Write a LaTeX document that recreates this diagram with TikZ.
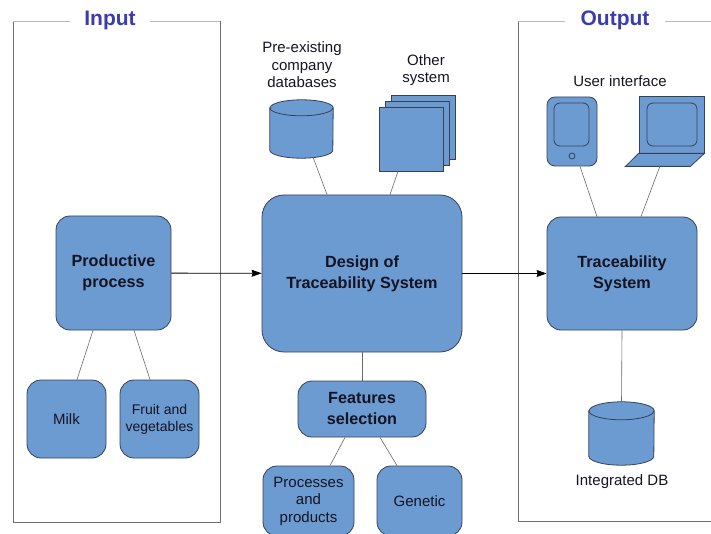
\documentclass[tikz,border=0pt]{standalone}
\usepackage{fontspec}
\setmainfont{Liberation Sans}
\usetikzlibrary{shapes}
\usetikzlibrary{arrows.meta}
\usetikzlibrary{positioning}

\definecolor{boxblue}{RGB}{108,155,210}
\definecolor{boxline}{RGB}{55,65,85}
\definecolor{boxtext}{RGB}{20,20,35}
\definecolor{titleblue}{RGB}{60,60,175}
\definecolor{wire}{RGB}{105,105,105}
\definecolor{frameside}{RGB}{110,110,110}
\definecolor{frametop}{RGB}{185,185,185}

\begin{document}
\begin{tikzpicture}[x=1pt,y=-1pt,>={Stealth[length=10pt,width=7pt,inset=1pt]},
	main node/.style={rectangle,rounded corners=14pt,fill=boxblue,draw=boxline,line width=0.8pt,align=center,inner sep=2pt,text=boxtext},
	bold text/.style={font=\fontsize{16.2}{21}\selectfont\bfseries},
	plain text/.style={font=\fontsize{15}{17.5}\selectfont,align=center,text=boxtext},
	db node/.style={rectangle,inner sep=0pt},
	sheet node/.style={rectangle,fill=boxblue,draw=boxline,line width=0.8pt,minimum size=64pt},
	outline/.style={draw=boxline,line width=0.8pt},
	link/.style={draw=wire,line width=0.6pt},
	title/.style={text=titleblue,font=\fontsize{21}{25}\selectfont\bfseries}]

	\useasboundingbox (0,0) rectangle (711,534);

	% frames
	\node[title] at (110,20) (intitle) {Input};
	\node[title] at (615,20) (outtitle) {Output};
	\draw[frameside,line width=0.8pt] (13,21) -- (13,522) -- (220,522) -- (220,21);
	\draw[frametop,line width=0.8pt] (13,21) -- (70,21) (150,21) -- (220,21);
	\draw[frameside,line width=0.8pt] (518,21) -- (518,521) -- (712,521);
	\draw[frametop,line width=0.8pt] (518,21) -- (565,21) (665,21) -- (712,21);

	% input side
	\node[main node,bold text,minimum width=115pt,minimum height=114pt] at (113.5,273) (prod) {Productive\\process};
	\node[main node,plain text,minimum width=79pt,minimum height=78pt] at (66.5,419) (milk) {Milk};
	\node[main node,plain text,font=\fontsize{14}{17}\selectfont,minimum width=79pt,minimum height=78pt] at (159.5,419) (fruit) {Fruit and\\vegetables};

	% design
	\node[main node,bold text,rounded corners=22pt,minimum width=200pt,minimum height=157pt] at (362,273.5) (design) {Design of\\Traceability System};
	\node[main node,bold text,minimum width=128pt,minimum height=56pt] at (362,409) (feat) {Features\\selection};
	\node[main node,plain text,minimum width=91pt,minimum height=70pt] at (308.5,501) (proc) {Processes\\and\\products};
	\node[main node,plain text,minimum width=85pt,minimum height=70pt] at (419.5,501) (gen) {Genetic};

	\node[db node,minimum width=63pt,minimum height=58pt] at (301.5,129) (predb) {};
	\draw[outline,fill=boxblue] ([yshift=-8pt]predb.north west) -- ([yshift=8pt]predb.south west)
		arc[start angle=180,end angle=360,x radius=31.5pt,y radius=8pt] -- ([yshift=-8pt]predb.north east)
		arc[start angle=0,end angle=180,x radius=31.5pt,y radius=8pt] -- cycle;
	\draw[outline] ([yshift=-8pt]predb.north west) arc[start angle=180,end angle=360,x radius=31.5pt,y radius=8pt];
	\node[plain text] at (302,65) (predbtext) {Pre-existing\\company\\databases};

	\node[sheet node] at (423,127) (sheet3) {};
	\node[sheet node] at (417,133) (sheet2) {};
	\node[sheet node] at (411,139) (sheet1) {};
	\node[plain text] at (426,70) (othertext) {Other\\system};

	% output side
	\node[main node,bold text,minimum width=150pt,minimum height=113pt] at (622,273.5) (trace) {Traceability\\System};
	\node[plain text] at (620,81) (uitext) {User interface};

	\node[main node,rounded corners=8pt,minimum width=50pt,minimum height=69pt] at (572,131.5) (tablet) {};
	\node[outline,rectangle,rounded corners=6pt,minimum width=35pt,minimum height=43pt] at (571.5,124.5) (tabscreen) {};
	\node[outline,circle,minimum size=6pt,inner sep=0pt] at (572,156) (tabbutton) {};

	\node[sheet node,minimum width=65pt,minimum height=57pt] at (671.5,124.5) (laptop) {};
	\node[outline,rectangle,rounded corners=6pt,minimum width=50pt,minimum height=43pt] at (672,124.5) (lapscreen) {};
	\draw[outline,fill=boxblue] (laptop.south west) -- (laptop.south east) -- ++(-14,13) -- ++(-65,0) -- cycle;
	\coordinate (keyboard) at (660,166);

	\node[db node,minimum width=65pt,minimum height=63pt] at (621.5,433.5) (intdb) {};
	\draw[outline,fill=boxblue] ([yshift=-9pt]intdb.north west) -- ([yshift=9pt]intdb.south west)
		arc[start angle=180,end angle=360,x radius=32.5pt,y radius=9pt] -- ([yshift=-9pt]intdb.north east)
		arc[start angle=0,end angle=180,x radius=32.5pt,y radius=9pt] -- cycle;
	\draw[outline] ([yshift=-9pt]intdb.north west) arc[start angle=180,end angle=360,x radius=32.5pt,y radius=9pt];
	\node[plain text] at (622,482) (intdbtext) {Integrated DB};

	% connectors
	\draw[->,line width=0.8pt] (prod) -- (design);
	\draw[->,line width=0.8pt] (design) -- (trace);

	\path[link]
	([xshift=-20.5pt]prod.south) edge ([xshift=10.5pt]milk.north)
	([xshift=20.5pt]prod.south) edge ([xshift=-9.5pt]fruit.north)
	([xshift=11.5pt,yshift=1pt]predb.south) edge ([xshift=-35pt]design.north)
	([xshift=-13pt]sheet1.south) edge ([xshift=28pt]design.north)
	(design.south) edge (feat.north)
	([xshift=-17pt]feat.south) edge ([xshift=21.5pt]proc.north)
	([xshift=18pt]feat.south) edge ([xshift=-22.5pt]gen.north)
	([xshift=8pt]tablet.south) edge ([xshift=-25pt]trace.north)
	(keyboard) edge ([xshift=19pt]trace.north)
	(trace.south) edge (intdb.north)
	;

\end{tikzpicture}
\end{document}
